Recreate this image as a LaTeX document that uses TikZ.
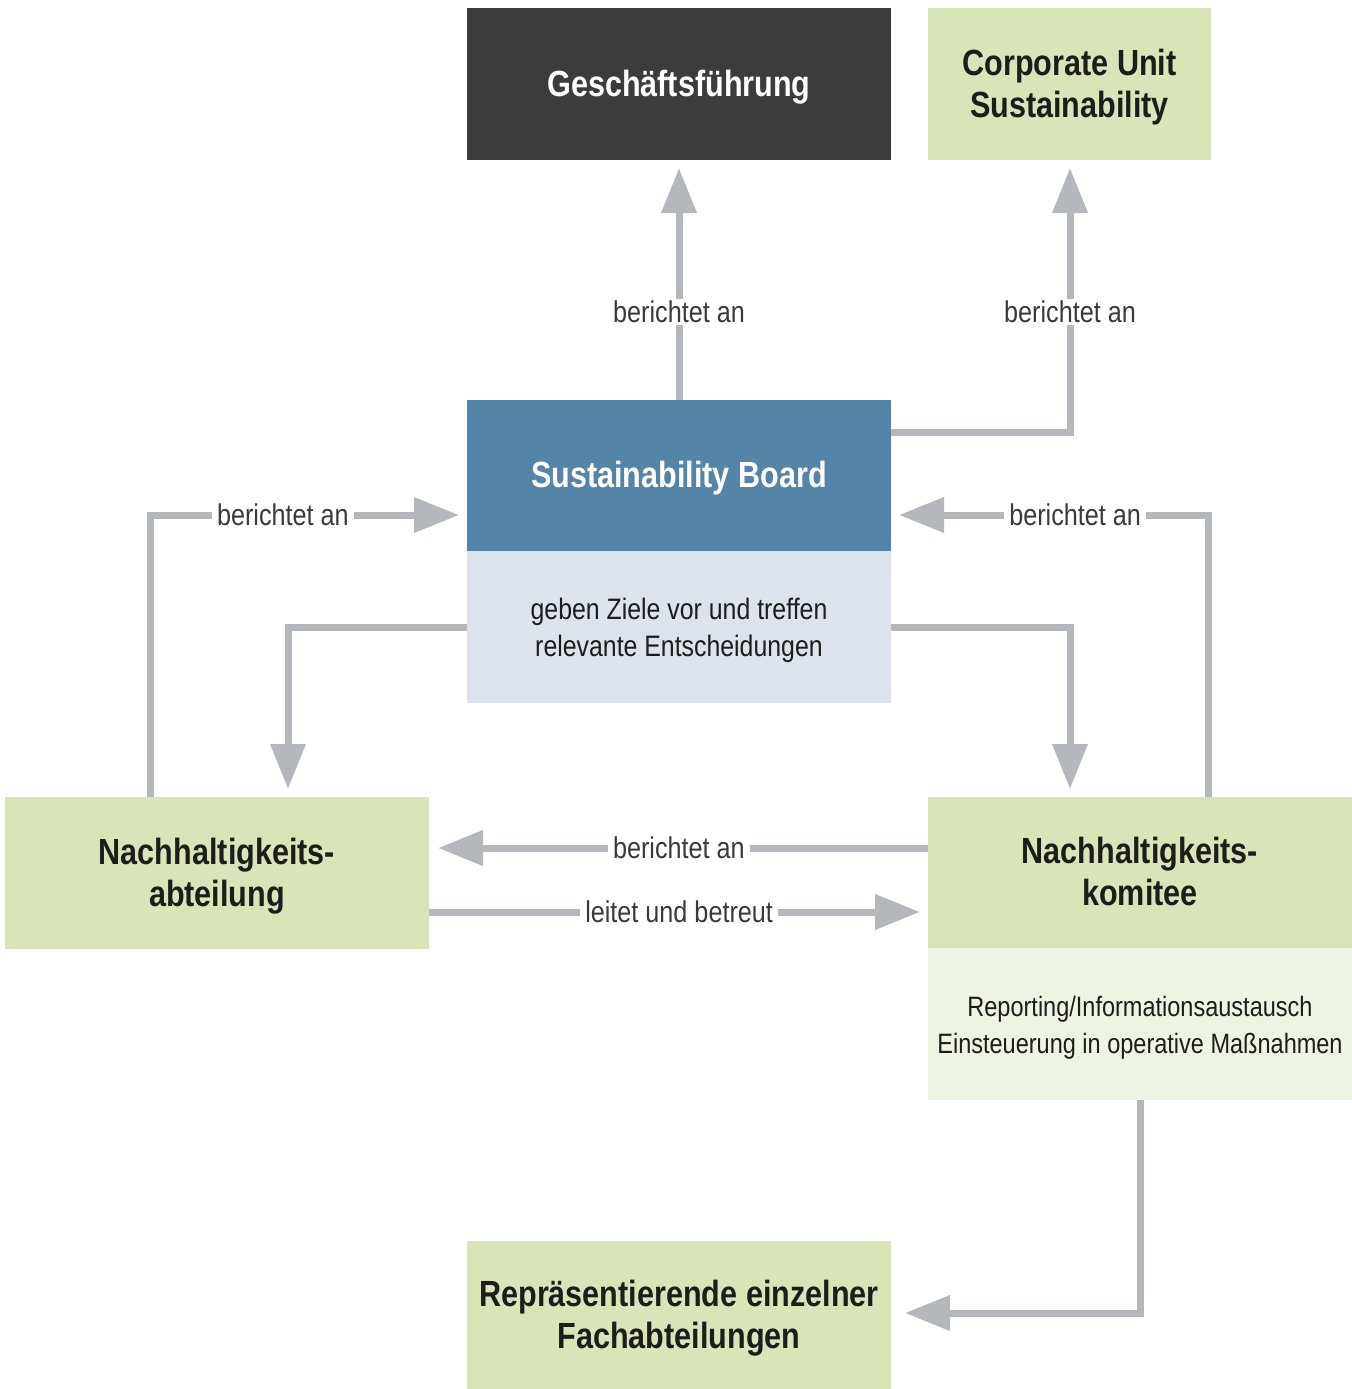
\documentclass[tikz,border=0pt]{standalone}
\usepackage{fontspec}
\setmainfont{Liberation Sans}[FakeStretch=0.84]
\usetikzlibrary{arrows.meta}
\definecolor{dark}{HTML}{3C3C3B}
\definecolor{green1}{HTML}{D8E5B9}
\definecolor{green2}{HTML}{EEF4E3}
\definecolor{blue1}{HTML}{5385A8}
\definecolor{blue2}{HTML}{DCE3ED}
\definecolor{arr}{HTML}{B4B8BC}
\definecolor{txt}{HTML}{1D1D1B}
\definecolor{lbl}{HTML}{3A3A3A}
\newcommand{\lowtext}[1]{\raisebox{-2pt}[\height][\depth]{\begin{tabular}{@{}c@{}}#1\end{tabular}}}
\tikzset{
  box/.style={minimum width=212pt, minimum height=76pt, inner sep=0pt, align=center, text=txt},
  title/.style={font=\fontsize{18.2}{21}\selectfont\bfseries},
  body/.style={font=\fontsize{14.8}{18.5}\selectfont},
  conn/.style={draw=arr, line width=3.5pt, -{Triangle[length=22.5pt,width=17pt]}},
  lab/.style={fill=white, inner xsep=2.5pt, inner ysep=1pt, text=lbl, font=\fontsize{15}{17}\selectfont}
}
\begin{document}
\begin{tikzpicture}[x=0.5pt,y=-0.5pt]
\useasboundingbox (0,0) rectangle (1352,1389);
% boxes
\node[box, title, fill=dark, text=white] (gf) at (679,84) {\lowtext{Geschäftsführung}};
\node[box, title, fill=green1, minimum width=141.5pt] (cus) at (1069.5,84) {\lowtext{Corporate Unit\\Sustainability}};
\node[box, title, fill=blue1, text=white, minimum height=75.5pt] (board) at (679,475.5) {\lowtext{Sustainability Board}};
\node[box, body, fill=blue2] (boardtxt) at (679,627) {\lowtext{geben Ziele vor und treffen\\relevante Entscheidungen}};
\node[box, title, fill=green1] (abt) at (217,873) {\lowtext{Nachhaltigkeits-\\abteilung}};
\node[box, title, fill=green1, minimum height=75.5pt] (kom) at (1140,872.5) {\lowtext{Nachhaltigkeits-\\komitee}};
\node[box, body, fill=green2, font=\fontsize{14}{18.5}\selectfont] (komtxt) at (1140,1024) {\lowtext{Reporting/Informationsaustausch\\Einsteuerung in operative Maßnahmen}};
\node[box, title, fill=green1, minimum height=74pt] (rep) at (679,1315) {\lowtext{Repräsentierende einzelner\\Fachabteilungen}};
% free ends
\coordinate (t1) at (679,168);
\coordinate (t2) at (1070,168);
\coordinate (t3) at (459,515);
\coordinate (t4) at (899,515);
\coordinate (t5) at (288,789);
\coordinate (t6) at (1070,789);
\coordinate (t7) at (438,848);
\coordinate (t8) at (920,912);
\coordinate (t9) at (905,1313);
% connectors
\draw[conn] (board.north) -- (t1) node[lab, pos=0.38] {berichtet an};
\draw[conn] (board.east |- 0,432) -- (1070,432) -- (t2) node[lab, pos=0.455] {berichtet an};
\draw[conn] (abt.north -| 150,0) -- (150,515) -- (t3) node[lab, pos=0.43] {berichtet an};
\draw[conn] (kom.north -| 1208,0) -- (1208,515) -- (t4) node[lab, pos=0.43] {berichtet an};
\draw[conn] (boardtxt.west) -| (t5);
\draw[conn] (boardtxt.east) -| (t6);
\draw[conn] (kom.west |- 0,848) -- (t7) node[lab, pos=0.508] {berichtet an};
\draw[conn] (abt.east |- 0,912) -- (t8) node[lab, pos=0.509] {leitet und betreut};
\draw[conn] (komtxt.south) |- (t9);
\end{tikzpicture}
\end{document}
